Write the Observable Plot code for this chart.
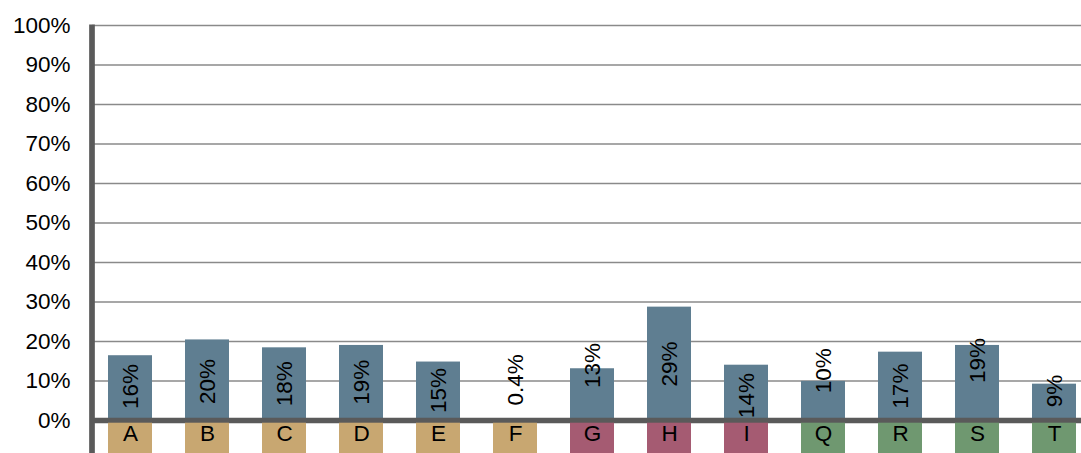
<!DOCTYPE html>
<html>
<head>
<meta charset="utf-8">
<script src="https://cdn.jsdelivr.net/npm/d3@7"></script>
<script src="https://cdn.jsdelivr.net/npm/@observablehq/plot@0.6"></script>
<style>
  html, body { margin: 0; padding: 0; background: #fff; }
  #chart { width: 1081px; height: 453px; overflow: hidden; }
</style>
</head>
<body>
<div id="chart"></div>
<script>
// Share per category (percent)
const categories = ["A", "B", "C", "D", "E", "F", "G", "H", "I", "Q", "R", "S", "T"];
const values     = [16.4, 20.4, 18.4, 19.0, 14.8, 0.4, 13.1, 28.7, 14.0, 9.9, 17.3, 19.0, 9.2];
// Where each rotated value label sits (percent, label centre)
const labelMid   = [8.6, 9.9, 9.3, 9.7, 7.6, 10.3, 13.9, 14.3, 6.3, 12.6, 8.7, 15.2, 7.5];
// Category group, shown by the colour of the box behind each letter
const groups     = ["1", "1", "1", "1", "1", "1", "2", "2", "2", "3", "3", "3", "3"];
const yTicks     = [0, 10, 20, 30, 40, 50, 60, 70, 80, 90, 100];

const groupColor = {"1": "#c8a771", "2": "#a55b72", "3": "#6f9870"};
const barColor = "#5f7e91";
const axisColor = "#5a5a5a";
const font = "'Liberation Sans', Arial, Helvetica, sans-serif";
const fontSize = 22.5;

const rows = categories.map((c, i) => ({
  cat: c, value: values[i], mid: labelMid[i], group: groups[i]
}));

const fmt = v => (v < 1 ? v.toFixed(1) : Math.round(v)) + "%";

// Category boxes under the baseline plus the thick left axis line
function decor(index, scales, vals, dims) {
  const x = scales.x;
  const bw = typeof x.bandwidth === "function" ? x.bandwidth() : 44.5;
  const y0 = scales.y(0);
  const g = d3.create("svg:g");
  g.selectAll("rect")
    .data(rows)
    .join("rect")
      .attr("x", d => x(d.cat))
      .attr("width", bw)
      .attr("y", y0 + 2.7)
      .attr("height", dims.height - (y0 + 2.7))
      .attr("fill", d => groupColor[d.group]);
  g.append("line")
    .attr("x1", dims.marginLeft).attr("x2", dims.marginLeft)
    .attr("y1", dims.marginTop - 0.5).attr("y2", dims.height)
    .attr("stroke", axisColor)
    .attr("stroke-width", 5.7);
  return g.node();
}

const chart = Plot.plot({
  width: 1081,
  height: 453,
  marginLeft: 92,
  marginRight: 0,
  marginTop: 25,
  marginBottom: 33,
  style: {fontFamily: font, fontSize: fontSize + "px", color: "#000", background: "#fff"},
  x: {domain: categories, range: [75.1, 1110], padding: 0.423, axis: null},
  y: {domain: [0, 100], axis: null},
  marks: [
    Plot.gridY(yTicks, {stroke: "#8a8a8a", strokeOpacity: 1, strokeWidth: 1.6}),
    Plot.axisY(yTicks, {
      tickSize: 0, tickPadding: 22, tickFormat: d => d + "%",
      fontSize, fill: "#000"
    }),
    Plot.barY(rows, {x: "cat", y: "value", fill: barColor}),
    Plot.ruleY([0], {stroke: axisColor, strokeWidth: 5.4}),
    decor,
    Plot.text(rows, {
      x: "cat", y: "mid", text: d => fmt(d.value), rotate: -90,
      fontSize, fill: "#000"
    }),
    Plot.text(rows, {
      x: "cat", text: "cat", frameAnchor: "bottom", dy: 20,
      fontSize, fill: "#000"
    })
  ]
});

document.getElementById("chart").appendChild(chart);
</script>
</body>
</html>
